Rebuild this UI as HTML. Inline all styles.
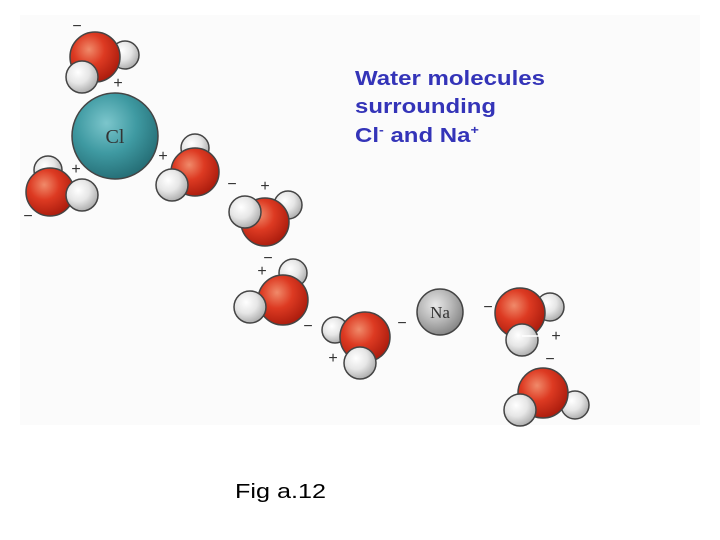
<!DOCTYPE html>
<html><head><style>html,body{margin:0;padding:0;background:#fff;width:720px;height:540px;overflow:hidden}</style></head>
<body>
<svg width="720" height="540" xmlns="http://www.w3.org/2000/svg" font-family="Liberation Sans, sans-serif">
<defs>
<radialGradient id="o" cx="0.38" cy="0.35" r="0.7"><stop offset="0" stop-color="#f08a6a"/><stop offset="0.45" stop-color="#dd3a22"/><stop offset="1" stop-color="#a81a0c"/></radialGradient>
<radialGradient id="h" cx="0.38" cy="0.35" r="0.7"><stop offset="0" stop-color="#ffffff"/><stop offset="0.5" stop-color="#e6e6e6"/><stop offset="1" stop-color="#a8a8a8"/></radialGradient>
<radialGradient id="cl" cx="0.4" cy="0.35" r="0.7"><stop offset="0" stop-color="#7cc6cc"/><stop offset="0.5" stop-color="#3f9aa2"/><stop offset="1" stop-color="#236a72"/></radialGradient>
<radialGradient id="na" cx="0.4" cy="0.35" r="0.7"><stop offset="0" stop-color="#e8e8e8"/><stop offset="0.5" stop-color="#b8b8b8"/><stop offset="1" stop-color="#808080"/></radialGradient>
</defs>
<rect x="20" y="15" width="680" height="410" fill="#fbfbfb"/>
<g stroke="#444" stroke-width="1.5">
<circle cx="125" cy="55" r="14" fill="url(#h)"/><circle cx="95" cy="57" r="25" fill="url(#o)"/><circle cx="82" cy="77" r="16" fill="url(#h)"/>
<circle cx="115" cy="136" r="43" fill="url(#cl)"/>
<circle cx="48" cy="170" r="14" fill="url(#h)"/><circle cx="50" cy="192" r="24" fill="url(#o)"/><circle cx="82" cy="195" r="16" fill="url(#h)"/>
<circle cx="195" cy="148" r="14" fill="url(#h)"/><circle cx="195" cy="172" r="24" fill="url(#o)"/><circle cx="172" cy="185" r="16" fill="url(#h)"/>
<circle cx="288" cy="205" r="14" fill="url(#h)"/><circle cx="265" cy="222" r="24" fill="url(#o)"/><circle cx="245" cy="212" r="16" fill="url(#h)"/>
<circle cx="293" cy="273" r="14" fill="url(#h)"/><circle cx="283" cy="300" r="25" fill="url(#o)"/><circle cx="250" cy="307" r="16" fill="url(#h)"/>
<circle cx="335" cy="330" r="13" fill="url(#h)"/><circle cx="365" cy="337" r="25" fill="url(#o)"/><circle cx="360" cy="363" r="16" fill="url(#h)"/>
<circle cx="440" cy="312" r="23" fill="url(#na)"/>
<circle cx="550" cy="307" r="14" fill="url(#h)"/><circle cx="520" cy="313" r="25" fill="url(#o)"/><circle cx="522" cy="340" r="16" fill="url(#h)"/>
<circle cx="575" cy="405" r="14" fill="url(#h)"/><circle cx="543" cy="393" r="25" fill="url(#o)"/><circle cx="520" cy="410" r="16" fill="url(#h)"/>
</g>
<line x1="522" y1="336" x2="540" y2="336" stroke="#fff" stroke-width="1.5"/>
<text x="115" y="143" font-family="Liberation Serif, serif" font-size="20" text-anchor="middle" fill="#333">Cl</text>
<text x="440" y="318" font-family="Liberation Serif, serif" font-size="17" text-anchor="middle" fill="#333">Na</text>
<g font-size="16" fill="#333" text-anchor="middle">
<text x="77" y="31">−</text><text x="118" y="88">+</text><text x="76" y="174">+</text><text x="28" y="221">−</text>
<text x="163" y="161">+</text><text x="232" y="189">−</text><text x="265" y="191">+</text><text x="268" y="263">−</text>
<text x="262" y="276">+</text><text x="308" y="331">−</text><text x="333" y="363">+</text><text x="402" y="328">−</text>
<text x="488" y="312">−</text><text x="556" y="341">+</text><text x="550" y="364">−</text>
</g>
<g font-size="20" font-weight="bold" fill="#3434b8">
<text x="355" y="85" textLength="190" lengthAdjust="spacingAndGlyphs">Water molecules</text>
<text x="355" y="113" textLength="141" lengthAdjust="spacingAndGlyphs">surrounding</text>
<g transform="translate(355,142) scale(1.2,1)"><text x="0" y="0">Cl<tspan font-size="12" dy="-8">-</tspan><tspan dy="8"> and Na</tspan><tspan font-size="12" dy="-8">+</tspan></text></g>
</g>
<text x="235" y="498" font-size="20" fill="#000" textLength="91" lengthAdjust="spacingAndGlyphs">Fig a.12</text>
</svg>
</body></html>
